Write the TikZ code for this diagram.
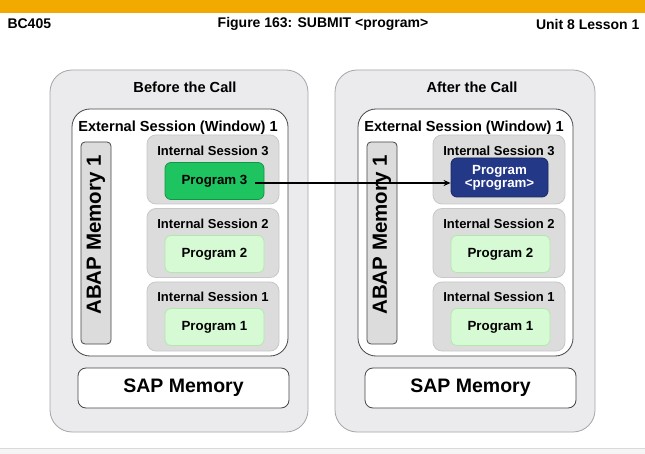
\documentclass[tikz,border=0pt]{standalone}
\usepackage{fontspec}
\setmainfont{Liberation Sans}
\usetikzlibrary{arrows.meta}
\definecolor{barorange}{RGB}{243,170,0}
\definecolor{outerfill}{RGB}{235,235,237}
\definecolor{outerline}{RGB}{165,165,168}
\definecolor{sessfill}{RGB}{220,220,221}
\definecolor{sessline}{RGB}{200,200,202}
\definecolor{progfill}{RGB}{214,250,212}
\definecolor{progline}{RGB}{178,232,172}
\definecolor{activefill}{RGB}{30,196,95}
\definecolor{activeline}{RGB}{18,150,70}
\definecolor{calledfill}{RGB}{36,56,136}
\definecolor{darkline}{RGB}{70,70,72}
\tikzset{
  >={Stealth[length=7pt,width=6pt]},
  %boxes of the two halves
  callbox/.style={draw=outerline,fill=outerfill,line width=0.8pt,rounded corners=22pt},
  extsess/.style={draw=darkline,fill=white,line width=0.8pt,rounded corners=18pt},
  abapbar/.style={draw=darkline,fill=sessfill,line width=0.8pt,rounded corners=4pt,
    minimum width=30pt,minimum height=202pt},
  intsess/.style={draw=sessline,fill=sessfill,line width=0.8pt,rounded corners=9pt,
    minimum width=132pt,minimum height=69pt},
  progbox/.style={draw=progline,fill=progfill,line width=0.8pt,rounded corners=6pt,
    minimum width=99pt,minimum height=37pt,font=\fontsize{13.3}{15}\selectfont\bfseries},
  progactive/.style={progbox,draw=activeline,fill=activefill},
  progcalled/.style={progbox,draw=calledfill!70!black,fill=calledfill,text=white,
    minimum width=97pt,minimum height=39pt,align=center},
  sapmem/.style={draw=darkline,fill=white,line width=0.8pt,rounded corners=8pt,
    minimum width=211pt,minimum height=40pt,font=\fontsize{19.5}{21}\selectfont\bfseries},
  memlabel/.style={rotate=90,font=\fontsize{20.5}{22}\selectfont\bfseries},
  headtxt/.style={font=\fontsize{14}{16}\selectfont\bfseries},
  sesslabel/.style={font=\fontsize{13}{15}\selectfont\bfseries},
  biglabel/.style={font=\fontsize{14.6}{16}\selectfont\bfseries},
  wire/.style={draw=black,line width=1.5pt}
}
\begin{document}
\begin{tikzpicture}[x=1pt,y=-1pt]
  \useasboundingbox (0,0) rectangle (645,454);
  % header
  \fill[barorange] (0,0) rectangle (645,13);
  \node (hleft) at (4,24) [headtxt,anchor=west] {BC405};
  \node (hmid) at (323,24) [headtxt] {Figure 163: SUBMIT <program>};
  \node (hright) at (643,24) [headtxt,anchor=east] {Unit 8 Lesson 1};
  % left half: before the call
  \draw[callbox] (50,70) rectangle (308,432);
  \node (tbefore) at (185,87) [biglabel] {Before the Call};
  \draw[extsess] (72,109) rectangle (288,356);
  \node (extL) at (178,128) [biglabel] {External Session (Window) 1};
  \node (abapL) at (96,243) [abapbar] {};
  \node at (96,235) [memlabel] {ABAP Memory 1};
  \node (isL3) at (213,169.5) [intsess] {};
  \node (isL2) at (213,243) [intsess] {};
  \node (isL1) at (213,316.5) [intsess] {};
  \node at (213,151) [sesslabel] {Internal Session 3};
  \node at (213,224) [sesslabel] {Internal Session 2};
  \node at (213,297) [sesslabel] {Internal Session 1};
  \node (pL3) at (214.5,181) [progactive] {Program 3};
  \node (pL2) at (214.5,254) [progbox] {Program 2};
  \node (pL1) at (214.5,327) [progbox] {Program 1};
  \node (sapL) at (183.5,388) [sapmem] {SAP Memory};
  % right half: after the call
  \draw[callbox] (335,70) rectangle (595,432);
  \node (tafter) at (472,87) [biglabel] {After the Call};
  \draw[extsess] (358,109) rectangle (573,356);
  \node (extR) at (464,128) [biglabel] {External Session (Window) 1};
  \node (abapR) at (382,243) [abapbar] {};
  \node at (382,235) [memlabel] {ABAP Memory 1};
  \node (isR3) at (499,169.5) [intsess] {};
  \node (isR2) at (499,243) [intsess] {};
  \node (isR1) at (499,316.5) [intsess] {};
  \node at (499,151) [sesslabel] {Internal Session 3};
  \node at (499,224) [sesslabel] {Internal Session 2};
  \node at (499,297) [sesslabel] {Internal Session 1};
  \node (pR3) at (499.5,177.5) [progcalled] {Program\\[-2pt]<program>};
  \node (pR2) at (500.5,254) [progbox] {Program 2};
  \node (pR1) at (500.5,327) [progbox] {Program 1};
  \node (sapR) at (470.5,388) [sapmem] {SAP Memory};
  % the call
  \coordinate (callstart) at (255,183);
  \draw[wire,->] (callstart) -- (callstart -| pR3.west);
  % bottom strip
  \fill[black!4] (0,448) rectangle (645,454);
  \draw[black!15,line width=0.8pt] (0,448) -- (645,448);
\end{tikzpicture}
\end{document}
